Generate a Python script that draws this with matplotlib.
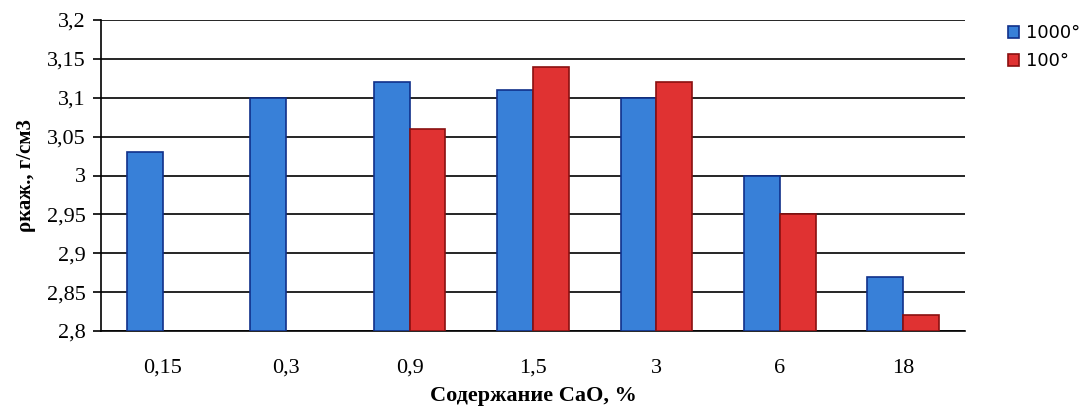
import numpy as np
import matplotlib
matplotlib.use("Agg")
import matplotlib.pyplot as plt

categories = ["0,15", "0,3", "0,9", "1,5", "3", "6", "18"]
series_1000 = [3.03, 3.10, 3.12, 3.11, 3.10, 3.00, 2.87]
series_100 = [np.nan, np.nan, 3.06, 3.14, 3.12, 2.95, 2.82]
yticks = [2.8, 2.85, 2.9, 2.95, 3.0, 3.05, 3.1, 3.15, 3.2]
ytick_labels = ["2,8", "2,85", "2,9", "2,95", "3", "3,05", "3,1", "3,15", "3,2"]

plt.rcParams['font.family'] = ['Liberation Serif', 'DejaVu Serif']

fig = plt.figure(figsize=(10.83, 4.08), dpi=100)
ax = fig.add_axes([101/1083, 1 - 331/408, (965-101)/1083, (331-20)/408])

x = np.arange(len(categories))
w = 0.29
b1 = np.array(series_1000) - 2.8
b2 = np.array(series_100) - 2.8
ax.bar(x - w/2, b1, w, bottom=2.8, color="#3880D8", edgecolor="#10308A", linewidth=1.2, label="1000°", zorder=3)
ax.bar(x + w/2, b2, w, bottom=2.8, color="#E03232", edgecolor="#8A1010", linewidth=1.2, label="100°", zorder=3)

ax.set_xlim(-0.5, len(categories) - 0.5)
ax.set_ylim(2.8, 3.2)
ax.set_yticks(yticks)
ax.set_yticklabels(ytick_labels, fontsize=16)
ax.set_xticks(x)
ax.set_xticklabels(categories, fontsize=16)
ax.tick_params(axis='x', length=0, pad=20)
ax.tick_params(axis='y', length=6, width=1.2, color="black", pad=5)
ax.grid(axis='y', color="black", linewidth=1.2, zorder=0)
for s in ["top", "right"]:
    ax.spines[s].set_visible(False)
ax.spines["left"].set_linewidth(1.2)
ax.spines["bottom"].set_linewidth(1.2)

ax.set_ylabel("ρкаж., г/см3", fontsize=15, fontweight="bold", labelpad=8)
ax.set_xlabel("Содержание CaO, %", fontsize=16, fontweight="bold", labelpad=6)

leg = fig.legend(loc="upper left", bbox_to_anchor=(992/1083, 1 - 8/408), frameon=False,
                 handlelength=0.6, handleheight=0.6, handletextpad=0.4,
                 labelspacing=0.55, prop={'family': ['DejaVu Sans'], 'size': 13})

fig.savefig("out.png", dpi=100)
